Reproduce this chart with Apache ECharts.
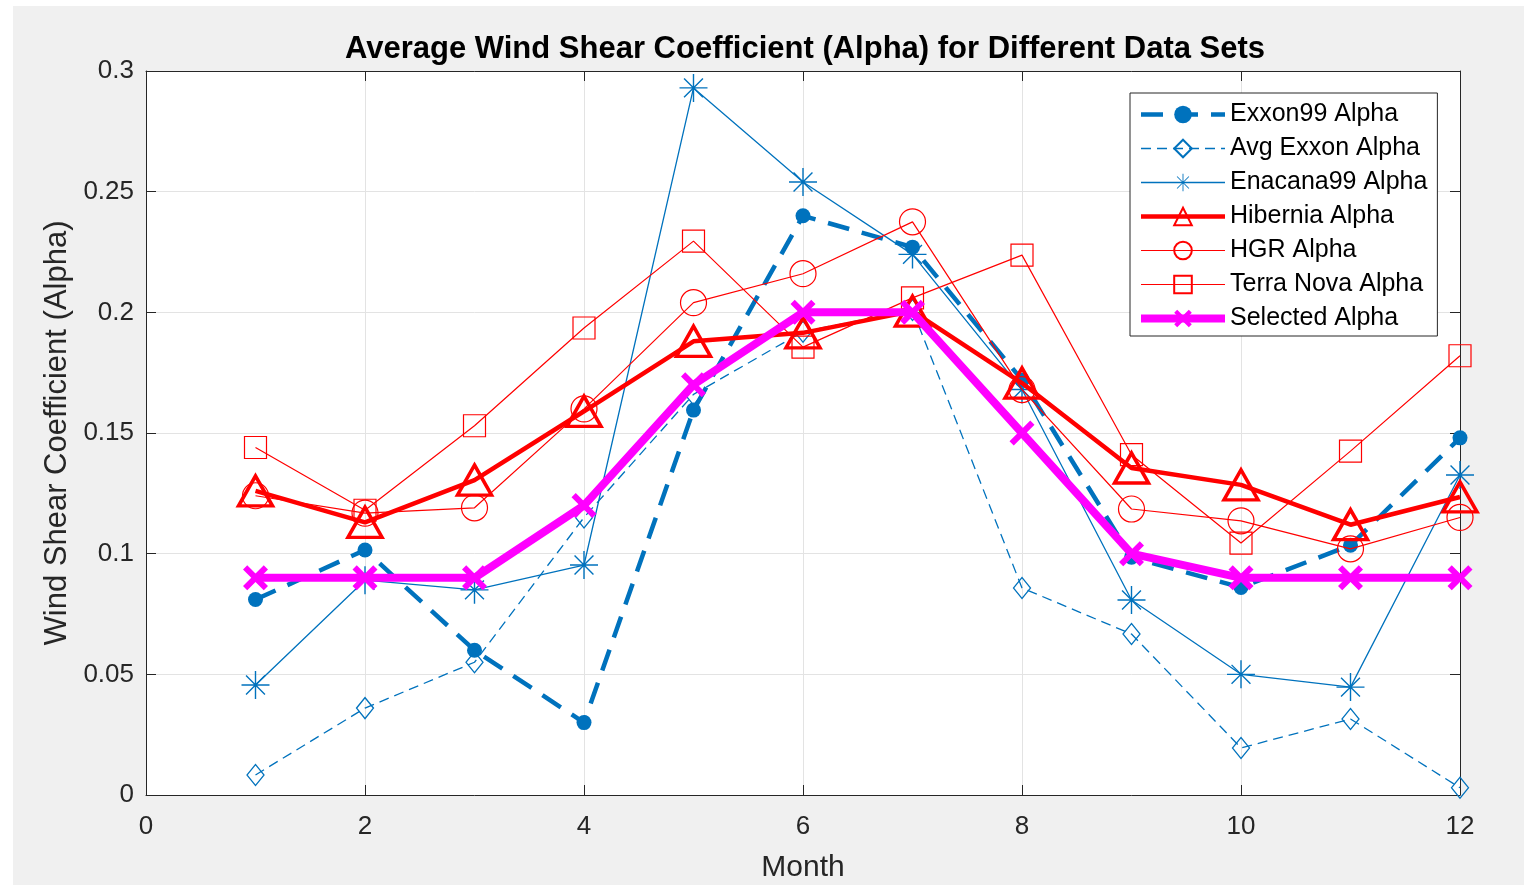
<!DOCTYPE html>
<html>
<head>
<meta charset="utf-8">
<script src="https://cdn.jsdelivr.net/npm/echarts@6/dist/echarts.min.js"></script>
<style>
html,body{margin:0;padding:0;background:#fff;width:1524px;height:885px;overflow:hidden;}
#c{position:absolute;left:13px;top:6px;width:1511px;height:879px;background:#f0f0f0;}
</style>
</head>
<body>
<div id="c"></div>
<script>
const months = [1,2,3,4,5,6,7,8,9,10,11,12];
const xTicks = [0,2,4,6,8,10,12];
const yTicks = [0,0.05,0.1,0.15,0.2,0.25,0.3];
const exxon99 = [0.081,0.1015,0.060,0.030,0.1595,0.240,0.227,0.172,0.0985,0.086,0.1035,0.148];
const avgExxon = [0.0083,0.036,0.055,0.115,0.166,0.192,0.201,0.0858,0.0667,0.0195,0.0315,0.003];
const enacana99 = [0.0456,0.089,0.085,0.0953,0.293,0.254,0.224,0.168,0.0808,0.050,0.0447,0.1326];
const hibernia = [0.126,0.113,0.1305,0.159,0.188,0.1915,0.2005,0.1707,0.1355,0.1285,0.112,0.1235];
const hgr = [0.124,0.1168,0.119,0.160,0.204,0.216,0.2375,0.168,0.1185,0.1136,0.102,0.115];
const terraNova = [0.144,0.118,0.153,0.1935,0.2295,0.1856,0.206,0.2237,0.141,0.1044,0.1425,0.182];
const selected = [0.09,0.09,0.09,0.12,0.17,0.20,0.20,0.15,0.10,0.09,0.09,0.09];
const seriesNames = ['Exxon99 Alpha','Avg Exxon Alpha','Enacana99 Alpha','Hibernia Alpha','HGR Alpha','Terra Nova Alpha','Selected Alpha'];

const BLUE = '#0072BD', RED = '#FF0000', MAG = '#FF00FF', AX = '#262626';
const ASTER = 'path://M47.5 0L52.5 0L52.5 100L47.5 100Z M0 47.5L100 47.5L100 52.5L0 52.5Z M14.5 18L18 14.5L85.5 82L82 85.5Z M82 14.5L85.5 18L18 85.5L14.5 82Z';
const XMARK = 'path://M0 17L17 0L50 33L83 0L100 17L67 50L100 83L83 100L50 67L17 100L0 83L33 50Z';

function pts(arr){ return months.map((m,i)=>[m, arr[i]]); }
const FONT = 'Liberation Sans, Arial, Helvetica, sans-serif';

const styles = [
  {symbol:'circle', symbolSize:15, lineStyle:{color:BLUE, width:4.5, type:[22,13]}, itemStyle:{color:BLUE}},
  {symbol:'diamond', symbolSize:[17,21], lineStyle:{color:BLUE, width:1.3, type:[10,6]}, itemStyle:{color:'none', borderColor:BLUE, borderWidth:1.3}},
  {symbol:ASTER, symbolSize:28, lineStyle:{color:BLUE, width:1.3}, itemStyle:{color:BLUE, borderWidth:0}},
  {symbol:'triangle', symbolSize:[34,30], lineStyle:{color:RED, width:4.5}, itemStyle:{color:'none', borderColor:RED, borderWidth:3.5}},
  {symbol:'circle', symbolSize:26, lineStyle:{color:RED, width:1.2}, itemStyle:{color:'none', borderColor:RED, borderWidth:1.2}},
  {symbol:'rect', symbolSize:22, lineStyle:{color:RED, width:1.2}, itemStyle:{color:'none', borderColor:RED, borderWidth:1.2}},
  {symbol:XMARK, symbolSize:25, lineStyle:{color:MAG, width:8}, itemStyle:{color:MAG, borderWidth:0}}
];
const dataArrays = [exxon99, avgExxon, enacana99, hibernia, hgr, terraNova, selected];

const chart = echarts.init(document.getElementById('c'), null, {renderer:'canvas'});
const axisCommonX = {type:'value', min:xTicks[0], max:xTicks[xTicks.length-1], interval:2};
const axisCommonY = {type:'value', min:yTicks[0], max:yTicks[yTicks.length-1], interval:0.05};
chart.setOption({
  backgroundColor:'#f0f0f0',
  animation:false,
  title:{
    text:'Average Wind Shear Coefficient (Alpha) for Different Data Sets',
    left:787, top:23, textAlign:'center',
    textStyle:{fontFamily:FONT, fontWeight:'bold', fontSize:31, color:'#000'}
  },
  grid:{left:133, top:65, width:1314, height:724, show:true, backgroundColor:'#fff', borderWidth:0, containLabel:false, outerBoundsMode:'none'},
  legend:{
    orient:'vertical', left:1117, top:87,
    backgroundColor:'#fff', borderColor:AX, borderWidth:1, borderRadius:0,
    padding:[9,10,5,7], itemWidth:84, itemHeight:22, itemGap:9,
    textStyle:{fontFamily:FONT, fontSize:25, color:'#000'},
    data: seriesNames.map((n,i)=>({name:n, lineStyle:{width:styles[i].lineStyle.width, type:styles[i].lineStyle.type || 'solid', color:styles[i].lineStyle.color}}))
  },
  xAxis:[
    Object.assign({}, axisCommonX, {
      position:'bottom', name:'Month', nameLocation:'middle', nameGap:58,
      nameTextStyle:{fontFamily:FONT, fontSize:30, color:AX},
      axisLine:{show:true, onZero:false, lineStyle:{color:AX, width:1}},
      axisTick:{show:true, inside:true, length:10, lineStyle:{color:AX}},
      axisLabel:{fontFamily:FONT, fontSize:26, color:AX, margin:19},
      splitLine:{show:true, lineStyle:{color:'#e3e3e3', width:1}}
    }),
    Object.assign({}, axisCommonX, {
      position:'top',
      axisLine:{show:true, onZero:false, lineStyle:{color:AX, width:1}},
      axisTick:{show:true, inside:true, length:10, lineStyle:{color:AX}},
      axisLabel:{show:false}, splitLine:{show:false}
    })
  ],
  yAxis:[
    Object.assign({}, axisCommonY, {
      position:'left', name:'Wind Shear Coefficient (Alpha)', nameLocation:'middle', nameGap:72,
      nameTextStyle:{fontFamily:FONT, fontSize:31, color:AX},
      axisLine:{show:true, onZero:false, lineStyle:{color:AX, width:1}},
      axisTick:{show:true, inside:true, length:10, lineStyle:{color:AX}},
      axisLabel:{fontFamily:FONT, fontSize:26, color:AX, margin:12},
      splitLine:{show:true, lineStyle:{color:'#e3e3e3', width:1}}
    }),
    Object.assign({}, axisCommonY, {
      position:'right',
      axisLine:{show:true, onZero:false, lineStyle:{color:AX, width:1}},
      axisTick:{show:true, inside:true, length:10, lineStyle:{color:AX}},
      axisLabel:{show:false}, splitLine:{show:false}
    })
  ],
  series: seriesNames.map((n,i)=>Object.assign({name:n, type:'line', data:pts(dataArrays[i]), z:2+i}, styles[i]))
});
</script>
</body>
</html>
